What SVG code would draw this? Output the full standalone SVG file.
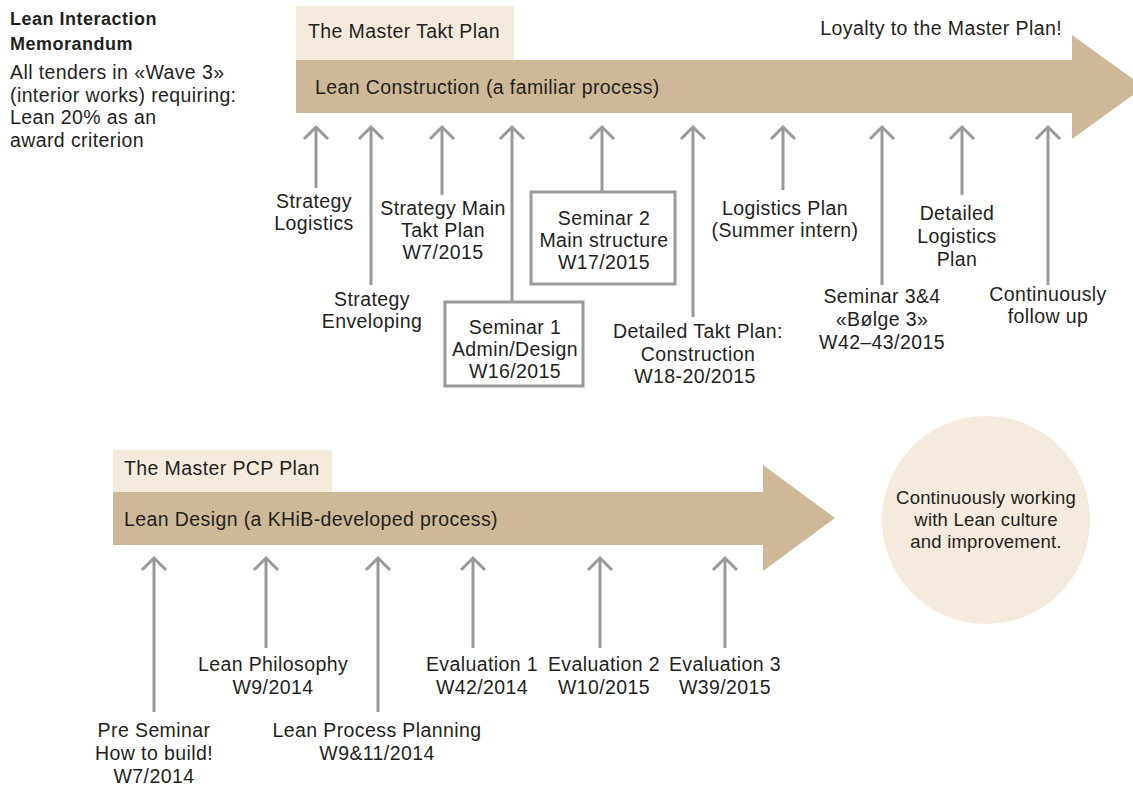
<svg xmlns="http://www.w3.org/2000/svg" width="1133" height="786" viewBox="0 0 1133 786">
  <style>
    text { font-family: "Liberation Sans", Arial, sans-serif; fill: #231f20; }
    .lbl { font-size: 19.5px; letter-spacing: 0.4px; text-anchor: middle; }
    .head { font-size: 19.5px; letter-spacing: 0.4px; }
    .title { font-size: 18px; font-weight: bold; letter-spacing: 0.5px; }
    .note { font-size: 19.5px; letter-spacing: 0.4px; }
    .circ { font-size: 18.5px; letter-spacing: 0.2px; text-anchor: middle; }
    .band { fill: #f4eadd; }
    .body { fill: #cdb998; }
    .conn { stroke: #999999; stroke-width: 3; fill: none; marker-end: url(#up); }
    .box { fill: #ffffff; stroke: #999999; stroke-width: 3; }
  </style>
  <defs>
    <marker id="up" viewBox="-16 -16 20 32" refX="0" refY="0" markerWidth="20" markerHeight="32" markerUnits="userSpaceOnUse" orient="auto">
      <path d="M-12,-12 L0,0 L-12,12" fill="none" stroke="#999999" stroke-width="3"/>
    </marker>
  </defs>

  <rect width="1133" height="786" fill="#ffffff"/>

  <!-- Left note -->
  <g id="memo">
    <text class="title" x="10" y="25">Lean Interaction</text>
    <text class="title" x="10" y="50">Memorandum</text>
    <text class="note" x="10" y="79">All tenders in «Wave 3»</text>
    <text class="note" x="10" y="102">(interior works) requiring:</text>
    <text class="note" x="10" y="124">Lean 20% as an</text>
    <text class="note" x="10" y="147">award criterion</text>
  </g>

  <!-- Upper timeline: Master Takt Plan -->
  <g id="takt-plan">
    <rect class="band" x="296" y="6" width="218" height="54"/>
    <text class="head" x="308" y="38">The Master Takt Plan</text>
    <path class="body" d="M296,60 H1072 V35 L1144,87 L1072,139 V113 H296 Z"/>
    <text class="head" x="315" y="94">Lean Construction (a familiar process)</text>
    <text class="head" x="1062" y="35" text-anchor="end">Loyalty to the Master Plan!</text>
  </g>

  <!-- Lower timeline: Master PCP Plan -->
  <g id="pcp-plan">
    <rect class="band" x="113" y="450" width="219" height="42"/>
    <text class="head" x="124" y="475">The Master PCP Plan</text>
    <path class="body" d="M113,492 H763 V465 L835,518 L763,571 V545 H113 Z"/>
    <text class="head" x="124" y="526">Lean Design (a KHiB-developed process)</text>
  </g>

  <!-- Closing circle -->
  <g id="culture">
    <circle cx="986" cy="520" r="104" fill="#f4eadd"/>
    <text class="circ" x="986" y="504">Continuously working</text>
    <text class="circ" x="986" y="526">with Lean culture</text>
    <text class="circ" x="986" y="548">and improvement.</text>
  </g>

  <!-- Connectors -->
  <g id="connectors">
    <line class="conn" x1="316" y1="188" x2="316" y2="127"/>
    <line class="conn" x1="371" y1="285" x2="371" y2="127"/>
    <line class="conn" x1="442" y1="195" x2="442" y2="127"/>
    <line class="conn" x1="512" y1="302" x2="512" y2="127"/>
    <line class="conn" x1="602" y1="192" x2="602" y2="127"/>
    <line class="conn" x1="693" y1="317" x2="693" y2="127"/>
    <line class="conn" x1="783" y1="190" x2="783" y2="127"/>
    <line class="conn" x1="882" y1="285" x2="882" y2="127"/>
    <line class="conn" x1="962" y1="195" x2="962" y2="127"/>
    <line class="conn" x1="1048" y1="285" x2="1048" y2="127"/>

    <line class="conn" x1="154" y1="712" x2="154" y2="558"/>
    <line class="conn" x1="266" y1="648" x2="266" y2="558"/>
    <line class="conn" x1="378" y1="712" x2="378" y2="558"/>
    <line class="conn" x1="473" y1="648" x2="473" y2="558"/>
    <line class="conn" x1="600" y1="648" x2="600" y2="558"/>
    <line class="conn" x1="725" y1="648" x2="725" y2="558"/>
  </g>

  <!-- Upper milestones -->
  <g id="strategy-logistics">
    <text class="lbl" x="314" y="208">Strategy</text>
    <text class="lbl" x="314" y="230">Logistics</text>
  </g>
  <g id="strategy-enveloping">
    <text class="lbl" x="372" y="306">Strategy</text>
    <text class="lbl" x="372" y="328">Enveloping</text>
  </g>
  <g id="strategy-main">
    <text class="lbl" x="443" y="215">Strategy Main</text>
    <text class="lbl" x="443" y="237">Takt Plan</text>
    <text class="lbl" x="443" y="259">W7/2015</text>
  </g>
  <g id="seminar-1">
    <rect class="box" x="445" y="302" width="138" height="84"/>
    <text class="lbl" x="515" y="334">Seminar 1</text>
    <text class="lbl" x="515" y="356">Admin/Design</text>
    <text class="lbl" x="515" y="378">W16/2015</text>
  </g>
  <g id="seminar-2">
    <rect class="box" x="531" y="192" width="144" height="92"/>
    <text class="lbl" x="604" y="225">Seminar 2</text>
    <text class="lbl" x="604" y="247">Main structure</text>
    <text class="lbl" x="604" y="269">W17/2015</text>
  </g>
  <g id="detailed-takt">
    <text class="lbl" x="698" y="338">Detailed Takt Plan:</text>
    <text class="lbl" x="698" y="361">Construction</text>
    <text class="lbl" x="695" y="383">W18-20/2015</text>
  </g>
  <g id="logistics-plan">
    <text class="lbl" x="785" y="215">Logistics Plan</text>
    <text class="lbl" x="785" y="237">(Summer intern)</text>
  </g>
  <g id="seminar-3-4">
    <text class="lbl" x="882" y="303">Seminar 3&amp;4</text>
    <text class="lbl" x="882" y="326">«Bølge 3»</text>
    <text class="lbl" x="882" y="349">W42–43/2015</text>
  </g>
  <g id="detailed-logistics">
    <text class="lbl" x="957" y="220">Detailed</text>
    <text class="lbl" x="957" y="243">Logistics</text>
    <text class="lbl" x="957" y="266">Plan</text>
  </g>
  <g id="follow-up">
    <text class="lbl" x="1048" y="301">Continuously</text>
    <text class="lbl" x="1048" y="323">follow up</text>
  </g>

  <!-- Lower milestones -->
  <g id="pre-seminar">
    <text class="lbl" x="154" y="737">Pre Seminar</text>
    <text class="lbl" x="154" y="760">How to build!</text>
    <text class="lbl" x="154" y="783">W7/2014</text>
  </g>
  <g id="lean-philosophy">
    <text class="lbl" x="273" y="671">Lean Philosophy</text>
    <text class="lbl" x="273" y="694">W9/2014</text>
  </g>
  <g id="lean-process">
    <text class="lbl" x="377" y="737">Lean Process Planning</text>
    <text class="lbl" x="377" y="760">W9&amp;11/2014</text>
  </g>
  <g id="evaluation-1">
    <text class="lbl" x="482" y="671">Evaluation 1</text>
    <text class="lbl" x="482" y="694">W42/2014</text>
  </g>
  <g id="evaluation-2">
    <text class="lbl" x="604" y="671">Evaluation 2</text>
    <text class="lbl" x="604" y="694">W10/2015</text>
  </g>
  <g id="evaluation-3">
    <text class="lbl" x="725" y="671">Evaluation 3</text>
    <text class="lbl" x="725" y="694">W39/2015</text>
  </g>
</svg>
